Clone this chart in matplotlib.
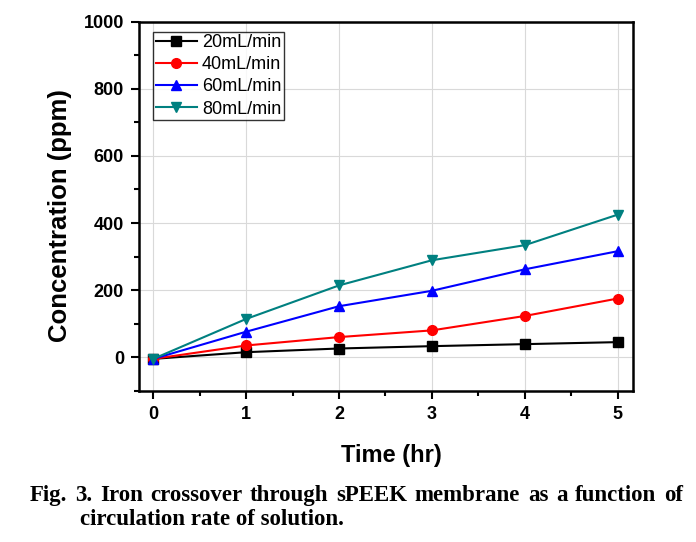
import matplotlib.pyplot as plt
from matplotlib.ticker import MultipleLocator

# data
time_hr = [0, 1, 2, 3, 4, 5]
conc_20 = [-5, 15, 26, 33, 39, 45]
conc_40 = [-5, 35, 60, 80, 123, 175]
conc_60 = [-5, 76, 152, 198, 262, 316]
conc_80 = [-5, 114, 214, 289, 334, 425]

labels = ["20mL/min", "40mL/min", "60mL/min", "80mL/min"]
series = [conc_20, conc_40, conc_60, conc_80]
colors = ["black", "#ff0000", "#0000ff", "#008080"]
markers = ["s", "o", "^", "v"]

caption1 = "Fig. 3. Iron crossover through sPEEK membrane as a function of"
caption2 = "circulation rate of solution."

plt.rcParams["font.family"] = ["Liberation Sans", "DejaVu Sans"]

fig = plt.figure(figsize=(6.96, 5.42), dpi=100)
ax = fig.add_axes([0.200, 0.279, 0.709, 0.681])

for y, lab, c, m in zip(series, labels, colors, markers):
    ax.plot(time_hr, y, color=c, marker=m, markersize=7, linewidth=1.5, label=lab)

ax.set_xlim(-0.15, 5.16)
ax.set_ylim(-100, 1000)
ax.xaxis.set_major_locator(MultipleLocator(1))
ax.xaxis.set_minor_locator(MultipleLocator(0.5))
ax.yaxis.set_major_locator(MultipleLocator(200))
ax.yaxis.set_minor_locator(MultipleLocator(100))
ax.grid(True, which="major", color="#d9d9d9", linewidth=0.8)
ax.set_axisbelow(True)

ax.tick_params(which="both", direction="out", top=False, right=False, width=1.5)
ax.tick_params(which="major", length=6, labelsize=13, pad=5)
ax.tick_params(which="minor", length=3.5)
for lbl in ax.get_xticklabels() + ax.get_yticklabels():
    lbl.set_fontweight("bold")
for sp in ax.spines.values():
    sp.set_linewidth(1.8)

ax.set_xlabel("Time (hr)", fontsize=17, fontweight="bold")
ax.set_ylabel("Concentration (ppm)", fontsize=18.5, fontweight="bold")
ax.xaxis.set_label_coords(0.511, -0.143)
ax.yaxis.set_label_coords(-0.136, 0.476)

leg = ax.legend(loc="upper left", bbox_to_anchor=(0.028, 0.973), fontsize=13,
                frameon=True, fancybox=False, edgecolor="black", handlelength=2.3,
                borderpad=0.15, labelspacing=0.28, handletextpad=0.25, borderaxespad=0)
leg.get_frame().set_linewidth(1.0)

# caption, first line justified between x=30 and x=683 px
fig.canvas.draw()
renderer = fig.canvas.get_renderer()
words = caption1.split(" ")
texts = [fig.text(0, 0.0756, w, fontsize=16.5, fontweight="bold", family="Liberation Serif",
                  va="baseline") for w in words]
widths = [t.get_window_extent(renderer).width for t in texts]
x0, x1 = 30, 683
gap = (x1 - x0 - sum(widths)) / (len(words) - 1)
x = x0
for t, w in zip(texts, widths):
    t.set_x(x / 696)
    x += w + gap
fig.text(80 / 696, 0.0314, caption2, fontsize=16.5, fontweight="bold",
         family="Liberation Serif", va="baseline")

fig.savefig("out.png", dpi=100)
